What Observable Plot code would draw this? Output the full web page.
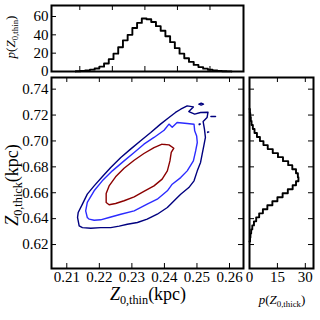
<!DOCTYPE html>
<html><head><meta charset="utf-8">
<script src="https://cdn.jsdelivr.net/npm/d3@7"></script>
<script src="https://cdn.jsdelivr.net/npm/@observablehq/plot@0.6"></script>
<style>
body{margin:0;background:#fff;}
#wrap{position:relative;width:320px;height:320px;font-family:'Liberation Serif','Times New Roman',Times,serif;color:#000;}
#wrap svg{position:absolute;left:0;top:0;}
.lab{position:absolute;white-space:nowrap;line-height:1;}
.lab sub{font-size:0.68em;vertical-align:-0.35em;line-height:0;}
</style></head><body><div id="wrap"></div>
<script>
// ---- data ----
const xTicks = [0.21, 0.22, 0.23, 0.24, 0.25, 0.26];
const yTicks = [0.62, 0.64, 0.66, 0.68, 0.70, 0.72, 0.74];
const topHistTicksX = [0.214, 0.224, 0.234, 0.244, 0.254];
const topHistTicksY = [0, 20, 40, 60];
const rightHistTicksX = [0, 15, 30];

const thinStart = 0.21275, thinWidth = 0.00145;
const thinHeights = [0.3,0.6,1.1,2.0,3.2,5.3,8.8,13.5,19.5,26.5,34,40,47.5,53,57.8,57.0,54,49.5,44.5,38.5,32,25.5,19.5,14.5,10.5,7.2,4.8,3.1,1.9,1.1,0.6,0.3,0.15];

const thickStart = 0.6224, thickWidth = 0.0031;
const thickHeights = [0.3,0.5,0.9,1.5,2.4,3.6,5.2,7.2,9.6,12.3,15.0,17.8,20.6,23.2,25.0,26.3,26.0,25.0,23.0,20.8,18.0,15.3,12.5,9.8,7.5,5.6,4.0,2.7,1.8,1.1,0.7,0.4,0.2];

const contourInner = [[0.2393,0.6975],[0.2414,0.6970],[0.2429,0.6944],[0.2421,0.6911],[0.2417,0.6846],[0.2409,0.6769],[0.2393,0.6705],[0.2368,0.6653],[0.2337,0.6610],[0.2307,0.6568],[0.2276,0.6538],[0.2250,0.6517],[0.2230,0.6507],[0.2221,0.6525],[0.2221,0.6594],[0.2230,0.6653],[0.2250,0.6723],[0.2276,0.6789],[0.2307,0.6851],[0.2337,0.6903],[0.2368,0.6949],[0.2393,0.6975]];
const contourMid = [[0.2163,0.6409],[0.2158,0.6460],[0.2163,0.6525],[0.2184,0.6615],[0.2209,0.6692],[0.2240,0.6769],[0.2276,0.6846],[0.2307,0.6911],[0.2337,0.6975],[0.2368,0.7027],[0.2399,0.7083],[0.2414,0.7130],[0.2424,0.7105],[0.2439,0.7142],[0.2470,0.7135],[0.2491,0.7129],[0.2493,0.7078],[0.2499,0.7039],[0.2501,0.6988],[0.2496,0.6923],[0.2489,0.6846],[0.2470,0.6769],[0.2450,0.6717],[0.2424,0.6666],[0.2409,0.6615],[0.2378,0.6550],[0.2347,0.6512],[0.2307,0.6460],[0.2266,0.6434],[0.2230,0.6409],[0.2204,0.6391],[0.2184,0.6388],[0.2169,0.6396],[0.2163,0.6409]];
const contourOuter = [[0.2138,0.6344],[0.2133,0.6409],[0.2135,0.6447],[0.2148,0.6512],[0.2163,0.6589],[0.2184,0.6653],[0.2209,0.6723],[0.2235,0.6795],[0.2266,0.6872],[0.2296,0.6937],[0.2327,0.7001],[0.2358,0.7065],[0.2388,0.7130],[0.2414,0.7181],[0.2434,0.7220],[0.2450,0.7245],[0.2470,0.7271],[0.2489,0.7263],[0.2475,0.7227],[0.2493,0.7207],[0.2511,0.7220],[0.2534,0.7222],[0.2531,0.7181],[0.2519,0.7150],[0.2523,0.7091],[0.2526,0.7027],[0.2521,0.6962],[0.2516,0.6898],[0.2511,0.6834],[0.2501,0.6769],[0.2491,0.6692],[0.2475,0.6640],[0.2450,0.6589],[0.2429,0.6537],[0.2409,0.6486],[0.2378,0.6434],[0.2347,0.6396],[0.2317,0.6370],[0.2286,0.6357],[0.2261,0.6342],[0.2235,0.6331],[0.2204,0.6331],[0.2174,0.6326],[0.2148,0.6331],[0.2138,0.6344]];
const islandIds = ["a","a","a","a","a","b","b","c","c","c","c","d","d","d","d"];
const islandX = [0.2506,0.2513,0.2520,0.2513,0.2506, 0.2543,0.2557, 0.2507,0.2510,0.2507,0.2507, 0.2533,0.2536,0.2533,0.2533];
const islandY = [0.7284,0.7292,0.7284,0.7277,0.7284, 0.7189,0.7189, 0.7130,0.7130,0.7126,0.7130, 0.7070,0.7070,0.7066,0.7070];

// ---- layout ----
const W = 320, H = 320;
const mainBox = {l: 51, r: 243, t: 77, b: 268};
const topBox = {l: 51, r: 243, t: 5, b: 71};
const rightBox = {l: 249, r: 313, t: 77, b: 268};
const xDomain = [0.2053, 0.2643];
const yDomain = [0.6015, 0.749];
const FONT = "'Liberation Serif','Times New Roman',Times,serif";
const font = {background: "transparent", fontFamily: FONT, fontSize: "15px", color: "black", overflow: "visible"};
const TL = 5;

function margins(b) { return {marginLeft: b.l, marginRight: W - b.r, marginTop: b.t, marginBottom: H - b.b, width: W, height: H}; }

const wrap = document.getElementById("wrap");

// main contour panel
const mfh = mainBox.b - mainBox.t, mfw = mainBox.r - mainBox.l;
const mainPlot = Plot.plot({
  ...margins(mainBox), style: font,
  x: {domain: xDomain}, y: {domain: yDomain},
  marks: [
    Plot.line(contourOuter, {x: d => d[0], y: d => d[1], stroke: "#00007f", strokeWidth: 1.4}),
    Plot.line(islandIds.map((id, i) => ({id, x: islandX[i], y: islandY[i]})), {x: "x", y: "y", z: "id", stroke: "#00007f", strokeWidth: 1.5}),
    Plot.line(contourMid, {x: d => d[0], y: d => d[1], stroke: "#2b2bff", strokeWidth: 1.4}),
    Plot.line(contourInner, {x: d => d[0], y: d => d[1], stroke: "#8b0000", strokeWidth: 1.4}),
    Plot.tickX(xTicks, {x: d => d, insetTop: mfh - TL}),
    Plot.tickX(xTicks, {x: d => d, insetBottom: mfh - TL}),
    Plot.tickY(yTicks, {y: d => d, insetRight: mfw - TL}),
    Plot.tickY(yTicks, {y: d => d, insetLeft: mfw - TL}),
    Plot.axisX({ticks: xTicks, tickSize: 0, tickPadding: 3, tickFormat: d3.format(".2f"), label: null}),
    Plot.axisY({ticks: yTicks, tickSize: 0, tickPadding: 3, tickFormat: d3.format(".2f"), label: null}),
    Plot.frame({stroke: "black", strokeWidth: 2})
  ]
});
wrap.appendChild(mainPlot);

// top histogram of Z_thin
const thinPts = [{x: thinStart, y: 0}];
thinHeights.forEach((h, i) => { thinPts.push({x: thinStart + i * thinWidth, y: h}); thinPts.push({x: thinStart + (i + 1) * thinWidth, y: h}); });
thinPts.push({x: thinStart + thinHeights.length * thinWidth, y: 0});
const tfh = topBox.b - topBox.t, tfw = topBox.r - topBox.l;
const topPlot = Plot.plot({
  ...margins(topBox), style: font,
  x: {domain: xDomain}, y: {domain: [0, 72]},
  marks: [
    Plot.line(thinPts, {x: "x", y: "y", stroke: "black", strokeWidth: 1.9}),
    Plot.tickX(topHistTicksX, {x: d => d, insetTop: tfh - TL}),
    Plot.tickX(topHistTicksX, {x: d => d, insetBottom: tfh - TL}),
    Plot.tickY(topHistTicksY, {y: d => d, insetRight: tfw - TL}),
    Plot.axisX({ticks: [], label: null}),
    Plot.axisY({ticks: topHistTicksY, tickSize: 0, tickPadding: 3, label: null}),
    Plot.frame({stroke: "black", strokeWidth: 2})
  ]
});
wrap.appendChild(topPlot);

// right histogram of Z_thick
const thickPts = [{x: 0, y: thickStart}];
thickHeights.forEach((h, i) => { thickPts.push({x: h, y: thickStart + i * thickWidth}); thickPts.push({x: h, y: thickStart + (i + 1) * thickWidth}); });
thickPts.push({x: 0, y: thickStart + thickHeights.length * thickWidth});
const rfh = rightBox.b - rightBox.t, rfw = rightBox.r - rightBox.l;
const rightPlot = Plot.plot({
  ...margins(rightBox), style: font,
  x: {domain: [0, 34.4]}, y: {domain: yDomain},
  marks: [
    Plot.line(thickPts, {x: "x", y: "y", stroke: "black", strokeWidth: 1.9}),
    Plot.tickX(rightHistTicksX, {x: d => d, insetTop: rfh - TL}),
    Plot.tickX(rightHistTicksX, {x: d => d, insetBottom: rfh - TL}),
    Plot.tickY(yTicks, {y: d => d, insetRight: rfw - TL}),
    Plot.tickY(yTicks, {y: d => d, insetLeft: rfw - TL}),
    Plot.axisX({ticks: rightHistTicksX, tickSize: 0, tickPadding: 3, label: null}),
    Plot.axisY({ticks: [], label: null}),
    Plot.frame({stroke: "black", strokeWidth: 2})
  ]
});
wrap.appendChild(rightPlot);

// labels
function addLabel(html, cx, cy, size, rotate) {
  const d = document.createElement("div");
  d.className = "lab";
  d.innerHTML = html;
  d.style.fontSize = size + "px";
  d.style.left = cx + "px";
  d.style.top = cy + "px";
  d.style.transform = "translate(-50%,-50%)" + (rotate ? " rotate(-90deg)" : "");
  wrap.appendChild(d);
}
addLabel("<i>Z</i><sub>0,thin</sub>(kpc)", 148, 294, 18, false);
addLabel("<i>Z</i><sub>0,thick</sub>(kpc)", 12, 185, 18, true);
addLabel("<i>p</i>(<i>Z</i><sub>0,thin</sub>)", 10, 37, 13, true);
addLabel("<i>p</i>(<i>Z</i><sub>0,thick</sub>)", 282, 299, 13, false);
</script>
</body></html>
